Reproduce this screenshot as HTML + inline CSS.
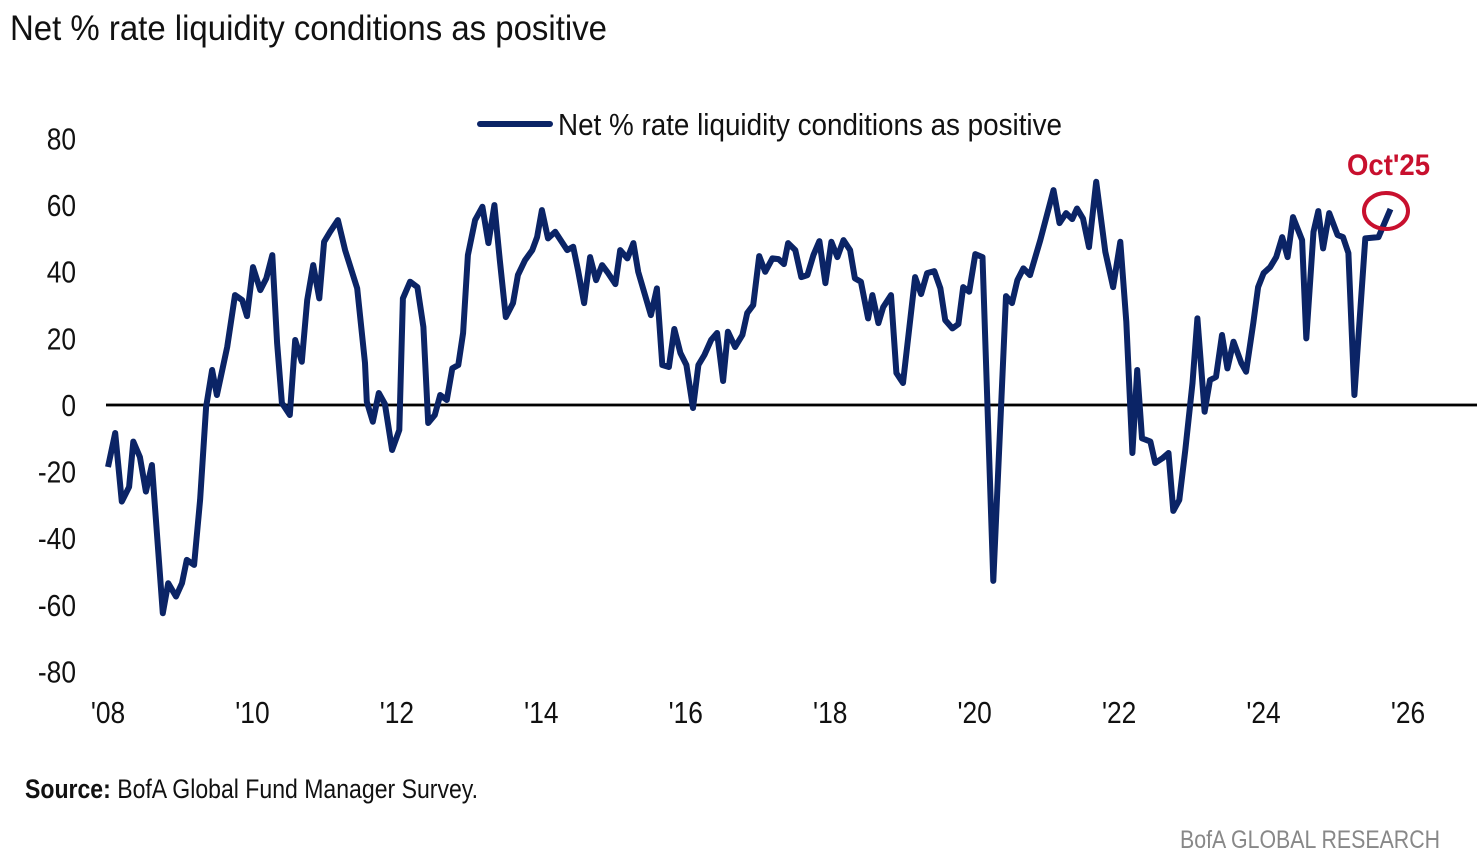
<!DOCTYPE html>
<html><head><meta charset="utf-8"><style>
body{margin:0;background:#fff;width:1477px;height:862px;overflow:hidden;font-family:"Liberation Sans Narrow","Liberation Sans",sans-serif;}
svg{position:absolute;left:0;top:0}
</style></head><body>
<svg id="chart" width="1477" height="862" viewBox="0 0 1477 862">
<text x="10" y="40" font-size="35" fill="#111" textLength="597" lengthAdjust="spacingAndGlyphs">Net % rate liquidity conditions as positive</text>
<line x1="480" y1="124" x2="550" y2="124" stroke="#0b2466" stroke-width="6" stroke-linecap="round"/>
<text x="558" y="135" font-size="31" fill="#111" textLength="504" lengthAdjust="spacingAndGlyphs">Net % rate liquidity conditions as positive</text>
<g id="yticks"></g>
<g id="xticks"></g>
<line x1="106" y1="405" x2="1477" y2="405" stroke="#999" stroke-width="4"/>
<line x1="106" y1="405" x2="1477" y2="405" stroke="#000" stroke-width="2"/>
<path id="series" fill="none" stroke="#0b2466" stroke-width="6" stroke-linejoin="round"/>
<ellipse cx="1386" cy="211" rx="22" ry="18" fill="none" stroke="#c8102e" stroke-width="4"/>
<text x="1347" y="175" font-size="30" font-weight="bold" fill="#c8102e" textLength="83" lengthAdjust="spacingAndGlyphs">Oct'25</text>
<text x="25" y="798" font-size="27" fill="#111" textLength="453" lengthAdjust="spacingAndGlyphs"><tspan font-weight="bold">Source:</tspan> BofA Global Fund Manager Survey.</text>
<text x="1180" y="848" font-size="25" fill="#888" textLength="260" lengthAdjust="spacingAndGlyphs">BofA GLOBAL RESEARCH</text>
</svg>
<script>
const months=[0,1.2,2.3,3.5,4.2,5.3,6.3,7.3,9.1,10.0,11.3,12.3,13.1,14.3,15.3,16.3,17.3,18.1,19.8,21.1,22.3,23.1,24.1,25.3,26.3,27.3,28.1,28.9,30.2,31.1,32.2,33.1,34.1,35.1,35.9,36.9,38.2,39.4,41.4,42.7,43.0,44.0,45.0,46.0,47.2,48.4,49.0,50.2,51.4,52.4,53.2,54.3,55.2,56.3,57.2,58.2,59.0,59.8,61.0,62.2,63.2,64.2,65.1,66.1,67.3,68.1,69.3,70.5,71.3,72.1,73.1,74.3,76.3,77.3,78.1,79.1,80.1,81.1,82.1,83.1,84.3,85.1,86.3,87.3,88.1,90.2,91.2,92.1,93.2,94.1,95.1,96.1,97.2,98.1,99.1,100.2,101.2,102.2,103.0,104.2,105.4,106.2,107.2,108.2,109.2,110.4,111.4,112.3,113.0,114.2,115.2,116.2,117.2,118.2,119.2,120.2,121.2,122.2,123.3,124.1,125.1,126.3,127.0,128.0,128.8,130.1,131.0,132.1,134.1,135.1,136.1,137.3,138.3,139.1,140.3,141.3,142.1,143.1,144.1,145.3,147.1,149.2,150.2,151.1,152.1,153.2,154.9,157.1,158.1,159.2,160.2,161.0,162.0,163.0,164.2,165.7,167.0,168.2,169.2,170.2,171.0,171.8,173.2,174.0,175.2,176.2,177.0,178.0,179.0,180.2,181.0,182.2,183.1,184.1,185.1,186.0,187.0,188.3,189.1,190.3,191.1,192.0,193.1,194.1,195.1,196.0,196.9,198.4,199.1,200.3,201.1,201.9,202.9,204.3,205.2,206.1,207.1,208.9,211.1,213.1];
const values=[-18.6,-8.4,-29,-24.6,-11,-15.6,-26,-18,-62.5,-53.5,-57.5,-53.5,-46.5,-48,-28.5,-0.6,10.5,3,17.4,33,31.5,26.7,41.4,34.5,38,45,18.6,0.6,-3,19.5,13,31.5,42,32,49,52,55.5,46.5,35,12.6,1,-5,3.6,0.3,-13.5,-7.5,32,37,35.4,23.4,-5.4,-3,3,1.5,11,12,21.6,45,55.5,59.5,48.6,60,43.5,26.4,30.6,39,43.5,46.5,50.4,58.5,50,52,46.5,47.5,40.5,30.6,44.4,37.5,42,39.6,36.3,46.5,44,48.6,40,27,35,12,11.4,22.8,15.6,12,-0.9,12,15,19.5,21.6,7.2,22,17.4,21,27.6,30,44.7,40,44,43.8,42.3,48.6,46.5,38.4,39,45,49.2,36.6,49,44.4,49.5,46.5,38,37,26,33,24.6,29.4,33,9.6,6.6,38.4,33.3,39.6,40.2,35,25.5,23,24.3,35.4,34,45.3,44.4,-52.8,32.7,30.6,37.5,41,39,49.5,64.5,54.6,57.6,55.8,59,56,47.4,67,46,35.4,49,25,-14.4,10.5,-10,-11,-17.4,-16,-14.4,-31.8,-28.5,-13.5,6.6,26,-2,7.5,8.4,21,11,19,12.6,10,24.6,35.4,39.6,41.4,44.4,50.4,44.4,56.4,49.5,20,52,58.2,47,57.6,51,50.4,45.6,3,50,50.4,58.8];
const yTicks=[80,60,40,20,0,-20,-40,-60,-80];
const xTickLabels=["'08","'10","'12","'14","'16","'18","'20","'22","'24","'26"];
const xTickMonths=[0,24,48,72,96,120,144,168,192,216];
function xs(m){return 108+m*(1300/216);}
function ys(v){return 405-v*(533/160);}
const NS="http://www.w3.org/2000/svg";
const yg=document.getElementById('yticks');
yTicks.forEach(v=>{const t=document.createElementNS(NS,'text');


t.setAttribute('x',76);t.setAttribute('y',ys(v)+11);t.setAttribute('text-anchor','end');t.setAttribute('font-size','31');t.setAttribute('fill','#111');
t.setAttribute('transform','translate(76,0) scale(0.85,1) translate(-76,0)');
t.textContent=v;yg.appendChild(t);});
const xg=document.getElementById('xticks');
xTickLabels.forEach((l,i)=>{const t=document.createElementNS(NS,'text');


const cx=xs(xTickMonths[i]);
t.setAttribute('x',cx);t.setAttribute('y',723);t.setAttribute('text-anchor','middle');t.setAttribute('font-size','31');t.setAttribute('fill','#111');
t.setAttribute('transform','translate('+cx+',0) scale(0.85,1) translate('+(-cx)+',0)');
t.textContent=l;xg.appendChild(t);});
let d='';months.forEach((m,i)=>{d+=(i?'L':'M')+xs(m).toFixed(1)+' '+ys(values[i]).toFixed(1);});
document.getElementById('series').setAttribute('d',d);
</script>
</body></html>
